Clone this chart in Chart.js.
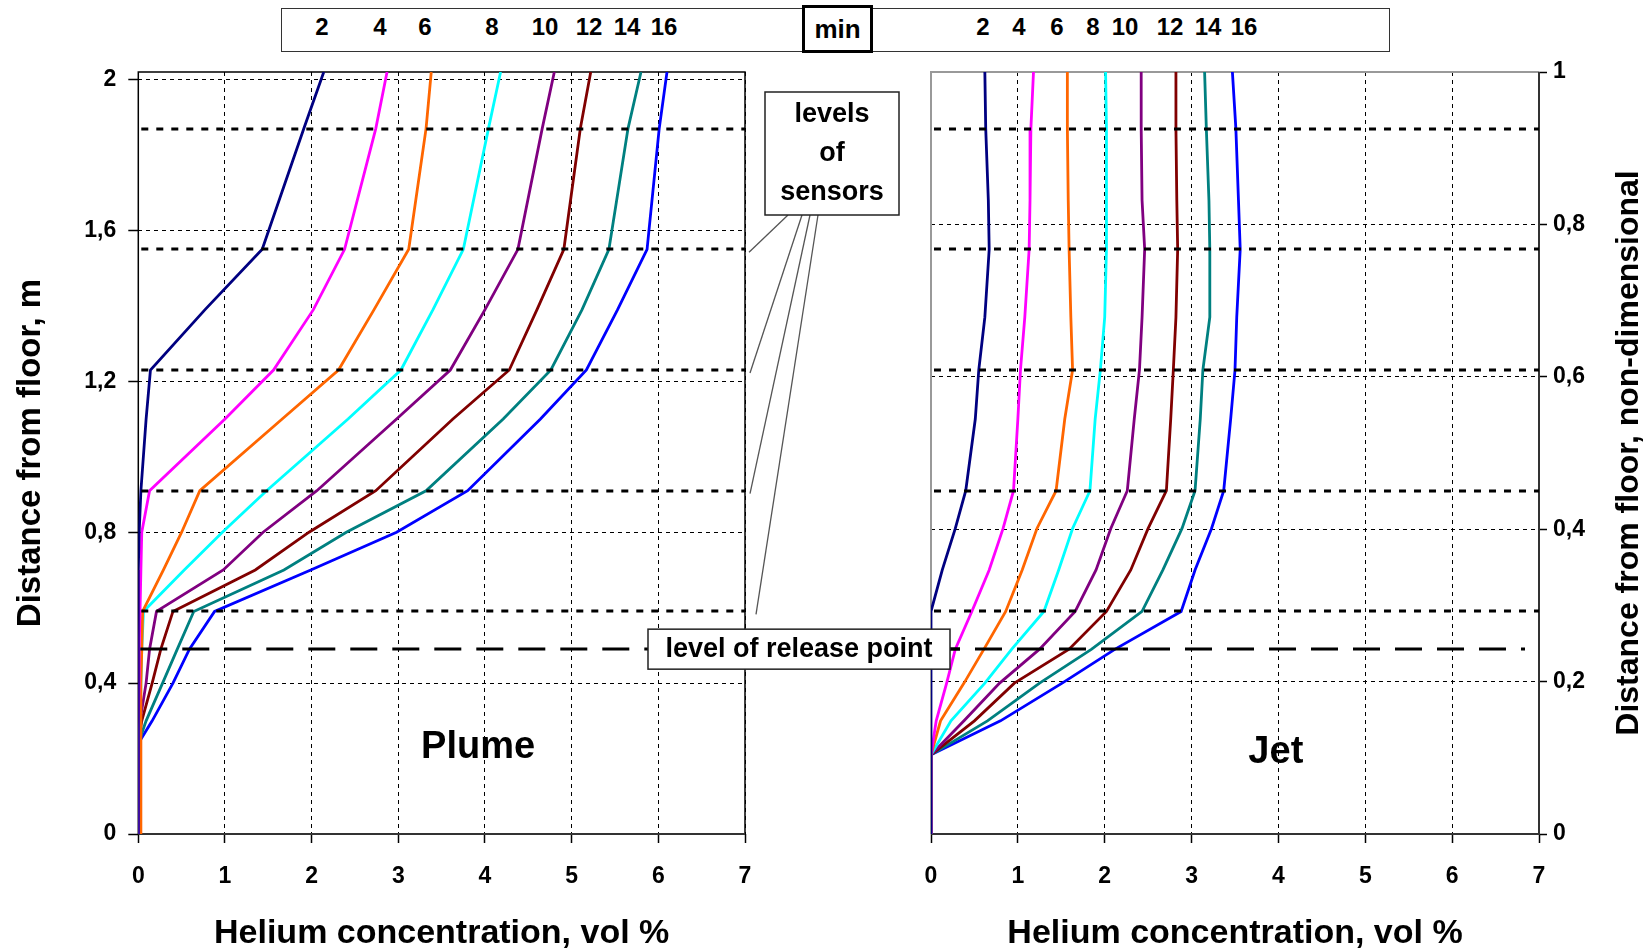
<!DOCTYPE html>
<html>
<head>
<meta charset="utf-8">
<title>Helium concentration - plume and jet</title>
<script src="https://cdn.jsdelivr.net/npm/chart.js@4.4.1/dist/chart.umd.min.js"></script>
<style>
  html, body { margin: 0; padding: 0; background: #fff; }
  body { width: 1648px; height: 949px; position: relative; overflow: hidden;
         font-family: "Liberation Sans", Arial, sans-serif; }
  canvas { position: absolute; top: 0; }
  #plumeChart { left: 0; z-index: 2; }
  #jetChart { left: 880px; z-index: 1; }
  #header { position: absolute; left: 281px; top: 8px; width: 1107px; height: 42px;
            border: 1.5px solid #333; background: #fff; z-index: 3; }
  #minBox { position: absolute; left: 802px; top: 5px; width: 65px; height: 42px;
            border: 3px solid #000; background: #fff; z-index: 4;
            font-size: 26px; font-weight: bold; text-align: center; line-height: 42px; }
  .num { position: absolute; top: 12px; z-index: 4; transform: translateX(-50%);
         font-size: 24px; font-weight: bold; line-height: 30px; }
</style>
</head>
<body>
<div id="header"></div>
<div id="minBox">min</div>
<canvas id="plumeChart" width="960" height="949"></canvas>
<canvas id="jetChart" width="768" height="949"></canvas>
<script>
// time of each profile, min
const minutes = [2, 4, 6, 8, 10, 12, 14, 16];
const seriesColors = ["#000080", "#ff00ff", "#ff6600", "#00ffff", "#800080", "#800000", "#008080", "#0000ff"];

// heights of sensors and of the release point, m
const sensorLevels = [0.59, 0.91, 1.23, 1.55, 1.87];
const releaseLevel = 0.49;

// plume: helium vol % at each height
const plumeHeights = [2.02, 1.87, 1.55, 1.39, 1.23, 1.10, 0.91, 0.80, 0.70, 0.59, 0.49, 0.40, 0.30, 0.24, 0];
const plume2  = [2.14, 1.91, 1.43, 0.77, 0.14, 0.09, 0.03, 0.01, 0, 0, 0, 0, 0, 0, 0];
const plume4  = [2.87, 2.74, 2.38, 2.02, 1.56, 1.00, 0.13, 0.04, 0.03, 0.02, 0.01, 0.01, 0, 0, 0];
const plume6  = [3.38, 3.32, 3.12, 2.72, 2.31, 1.66, 0.71, 0.50, 0.29, 0.05, 0.04, 0.03, 0.03, 0.03, 0.03];
const plume8  = [4.18, 4.04, 3.75, 3.40, 3.03, 2.42, 1.48, 0.97, 0.53, 0.06, 0.04, 0.03, 0.02, 0, 0];
const plume10 = [4.80, 4.66, 4.38, 4.00, 3.60, 2.98, 2.06, 1.44, 0.98, 0.21, 0.13, 0.09, 0.02, 0, 0];
const plume12 = [5.22, 5.10, 4.91, 4.60, 4.28, 3.63, 2.74, 1.97, 1.35, 0.40, 0.26, 0.16, 0.04, 0, 0];
const plume14 = [5.80, 5.65, 5.43, 5.12, 4.76, 4.21, 3.32, 2.40, 1.68, 0.64, 0.45, 0.28, 0.09, 0, 0];
const plume16 = [6.10, 6.01, 5.87, 5.53, 5.17, 4.64, 3.80, 2.98, 1.99, 0.88, 0.59, 0.40, 0.16, 0, 0];

// jet: helium vol % at each height
const jetHeights = [2.02, 1.87, 1.68, 1.55, 1.37, 1.23, 1.10, 0.91, 0.81, 0.70, 0.59, 0.49, 0.40, 0.30, 0.21, 0];
const jet2  = [0.62, 0.63, 0.66, 0.67, 0.62, 0.55, 0.51, 0.40, 0.28, 0.13, 0, 0, 0, 0, 0, 0];
const jet4  = [1.18, 1.15, 1.14, 1.13, 1.08, 1.03, 1.00, 0.95, 0.83, 0.67, 0.47, 0.28, 0.18, 0.06, 0, 0];
const jet6  = [1.57, 1.57, 1.58, 1.59, 1.61, 1.63, 1.54, 1.44, 1.22, 1.05, 0.86, 0.61, 0.38, 0.11, 0, 0];
const jet8  = [2.01, 2.02, 2.02, 2.02, 2.00, 1.95, 1.89, 1.83, 1.63, 1.47, 1.30, 0.93, 0.62, 0.23, 0, 0];
const jet10 = [2.42, 2.42, 2.43, 2.46, 2.43, 2.40, 2.34, 2.26, 2.07, 1.90, 1.66, 1.25, 0.79, 0.38, 0, 0];
const jet12 = [2.82, 2.82, 2.83, 2.84, 2.82, 2.79, 2.76, 2.71, 2.50, 2.30, 2.02, 1.59, 0.96, 0.50, 0, 0];
const jet14 = [3.15, 3.17, 3.20, 3.21, 3.21, 3.13, 3.10, 3.04, 2.89, 2.67, 2.43, 1.85, 1.25, 0.65, 0, 0];
const jet16 = [3.47, 3.51, 3.54, 3.56, 3.52, 3.50, 3.45, 3.37, 3.23, 3.04, 2.88, 2.12, 1.51, 0.80, 0, 0];

const plumeSeries = [plume2, plume4, plume6, plume8, plume10, plume12, plume14, plume16];
const jetSeries = [jet2, jet4, jet6, jet8, jet10, jet12, jet14, jet16];

// layout of the "min" header labels (page px)
const plumeLabelX = [322, 380, 425, 492, 545, 589, 627, 664];
const jetLabelX = [983, 1019, 1057, 1093, 1125, 1170, 1208, 1244];

const FONT = "'Liberation Sans', Arial, sans-serif";
Chart.defaults.font.family = FONT;
Chart.defaults.color = "#000";

minutes.forEach((m, i) => {
    [plumeLabelX[i], jetLabelX[i]].forEach(x => {
        const el = document.createElement("div");
        el.className = "num";
        el.style.left = x + "px";
        el.textContent = m;
        document.body.appendChild(el);
    });
});

function commaTick(v) {
    return String(Number(v.toFixed(2))).replace(".", ",");
}

function makeDatasets(heights, series) {
    return series.map((vals, i) => ({
        label: minutes[i] + " min",
        data: vals.map((c, k) => ({ x: c, y: heights[k] })),
        showLine: true,
        borderColor: seriesColors[i],
        borderWidth: 2.8,
        pointRadius: 0,
        tension: 0
    }));
}

function xAxis() {
    return {
        type: "linear", min: 0, max: 7,
        afterFit: s => { s.height = 115; },
        ticks: { stepSize: 1, padding: 20, maxRotation: 0, font: { size: 23, weight: "bold" } },
        grid: { color: "#000", lineWidth: 1, tickLength: 9, tickColor: "#000", tickWidth: 1.5, tickBorderDash: [] },
        border: { display: false, dash: [4, 4] },
        title: { display: true, text: "Helium concentration, vol %", padding: { top: 0, bottom: 0 },
                 font: { size: 34, weight: "bold", lineHeight: 0.9 } }
    };
}

function sensorAndRelease(chart, releaseTo) {
    const { ctx, chartArea: a, scales: { y } } = chart;
    ctx.save();
    ctx.strokeStyle = "#000";
    ctx.lineWidth = 3;
    ctx.setLineDash([7, 8]);
    sensorLevels.forEach(h => {
        const py = Math.round(y.getPixelForValue(h));
        ctx.beginPath();
        ctx.moveTo(a.left + 3, py);
        ctx.lineTo(a.right, py);
        ctx.stroke();
    });
    ctx.setLineDash([27, 15]);
    const ry = Math.round(y.getPixelForValue(releaseLevel));
    ctx.beginPath();
    ctx.moveTo(a.left + 2, ry);
    ctx.lineTo(releaseTo, ry);
    ctx.stroke();
    ctx.restore();
}

function boxText(ctx, x1, y1, x2, y2, lines, lineGap) {
    ctx.fillStyle = "#fff";
    ctx.fillRect(x1, y1, x2 - x1, y2 - y1);
    ctx.strokeStyle = "#222";
    ctx.lineWidth = 1.5;
    ctx.strokeRect(x1, y1, x2 - x1, y2 - y1);
    ctx.fillStyle = "#000";
    ctx.textAlign = "center";
    ctx.textBaseline = "middle";
    const cy = (y1 + y2) / 2 - (lines.length - 1) * lineGap / 2;
    lines.forEach((t, i) => ctx.fillText(t, (x1 + x2) / 2, cy + i * lineGap));
}

const plumeDecor = {
    id: "plumeDecor",
    beforeDatasetsDraw(chart) {
        const { ctx, chartArea: a } = chart;
        ctx.save();
        ctx.strokeStyle = "#000";
        ctx.lineWidth = 1.5;
        ctx.strokeRect(a.left, a.top, a.right - a.left, a.bottom - a.top);
        ctx.lineWidth = 2;
        ctx.strokeStyle = "#333";
        ctx.beginPath();
        ctx.moveTo(a.left, a.bottom); ctx.lineTo(a.right, a.bottom);
        ctx.stroke();
        ctx.restore();
    },
    afterDatasetsDraw(chart) {
        sensorAndRelease(chart, chart.width);
    },
    afterDraw(chart) {
        const { ctx, chartArea: a, scales: { x, y } } = chart;
        ctx.save();
        // panel name
        ctx.fillStyle = "#000";
        ctx.font = "bold 38px " + FONT;
        ctx.textAlign = "center";
        ctx.textBaseline = "middle";
        ctx.fillText("Plume", x.getPixelForValue(3.92), y.getPixelForValue(0.228));

        // leader lines from "levels of sensors" to the sensor levels
        const starts = [788, 802, 810, 818];
        const ends = [4, 5, 5, 11];
        ctx.strokeStyle = "#555";
        ctx.lineWidth = 1.3;
        [1.55, 1.23, 0.91, 0.59].forEach((h, i) => {
            ctx.beginPath();
            ctx.moveTo(starts[i], 215);
            ctx.lineTo(a.right + ends[i], y.getPixelForValue(h) + 3);
            ctx.stroke();
        });

        ctx.font = "bold 27px " + FONT;
        boxText(ctx, 765, 92, 899, 215, ["levels", "of", "sensors"], 39);

        const ry = y.getPixelForValue(releaseLevel);
        ctx.font = "bold 27px " + FONT;
        boxText(ctx, 648, ry - 20, 950, ry + 20, ["level of release point"], 0);
        ctx.restore();
    }
};

const jetDecor = {
    id: "jetDecor",
    beforeDatasetsDraw(chart) {
        const { ctx, chartArea: a } = chart;
        ctx.save();
        ctx.lineWidth = 2;
        ctx.strokeStyle = "#999";
        ctx.beginPath();
        ctx.moveTo(a.left, a.bottom); ctx.lineTo(a.left, a.top); ctx.lineTo(a.right, a.top);
        ctx.stroke();
        ctx.strokeStyle = "#333";
        ctx.beginPath();
        ctx.moveTo(a.left, a.bottom); ctx.lineTo(a.right, a.bottom); ctx.lineTo(a.right, a.top);
        ctx.stroke();
        ctx.restore();
    },
    afterDatasetsDraw(chart) {
        sensorAndRelease(chart, chart.chartArea.right - 14);
    },
    afterDraw(chart) {
        const { ctx, chartArea: a, scales: { x, y } } = chart;
        ctx.save();
        ctx.fillStyle = "#000";
        ctx.font = "bold 38px " + FONT;
        ctx.textAlign = "center";
        ctx.textBaseline = "middle";
        ctx.fillText("Jet", x.getPixelForValue(3.97), y.getPixelForValue(0.217));

        // right axis title, reading upwards
        ctx.font = "bold 32px " + FONT;
        ctx.translate(749, (a.top + a.bottom) / 2);
        ctx.rotate(-Math.PI / 2);
        ctx.fillText("Distance from floor, non-dimensional", 0, 0);
        ctx.restore();
    }
};

new Chart(document.getElementById("plumeChart"), {
    type: "scatter",
    data: { datasets: makeDatasets(plumeHeights, plumeSeries) },
    options: {
        responsive: false,
        animation: false,
        layout: { padding: { left: 0, top: 72, right: 215, bottom: 0 } },
        plugins: { legend: { display: false }, tooltip: { enabled: false } },
        scales: {
            x: xAxis(),
            y: {
                type: "linear", min: 0, max: 2.02,
                afterFit: s => { s.width = 138.3; },
                ticks: { stepSize: 0.4, includeBounds: false, padding: 12, callback: commaTick,
                         font: { size: 23, weight: "bold" } },
                grid: { color: "#000", lineWidth: 1, tickLength: 10, tickColor: "#000", tickWidth: 1.5, tickBorderDash: [] },
                border: { display: false, dash: [4, 4] },
                title: { display: true, text: "Distance from floor, m", padding: { top: 14, bottom: 0 },
                         font: { size: 33, weight: "bold", lineHeight: 1 } }
            }
        }
    },
    plugins: [plumeDecor]
});

new Chart(document.getElementById("jetChart"), {
    type: "scatter",
    data: { datasets: makeDatasets(jetHeights, jetSeries) },
    options: {
        responsive: false,
        animation: false,
        layout: { padding: { left: 51, top: 72, right: 0, bottom: 0 } },
        plugins: { legend: { display: false }, tooltip: { enabled: false } },
        scales: {
            x: xAxis(),
            y: { type: "linear", display: false, min: 0, max: 2.02 },
            y2: {
                type: "linear", position: "right", min: 0, max: 1,
                afterFit: s => { s.width = 109; },
                ticks: { stepSize: 0.2, includeBounds: false, padding: 6, callback: commaTick,
                         font: { size: 23, weight: "bold" } },
                grid: { color: "#000", lineWidth: 1, tickLength: 8, tickColor: "#000", tickWidth: 1.5, tickBorderDash: [] },
                border: { display: false, dash: [4, 4] }
            }
        }
    },
    plugins: [jetDecor]
});
</script>
</body>
</html>
